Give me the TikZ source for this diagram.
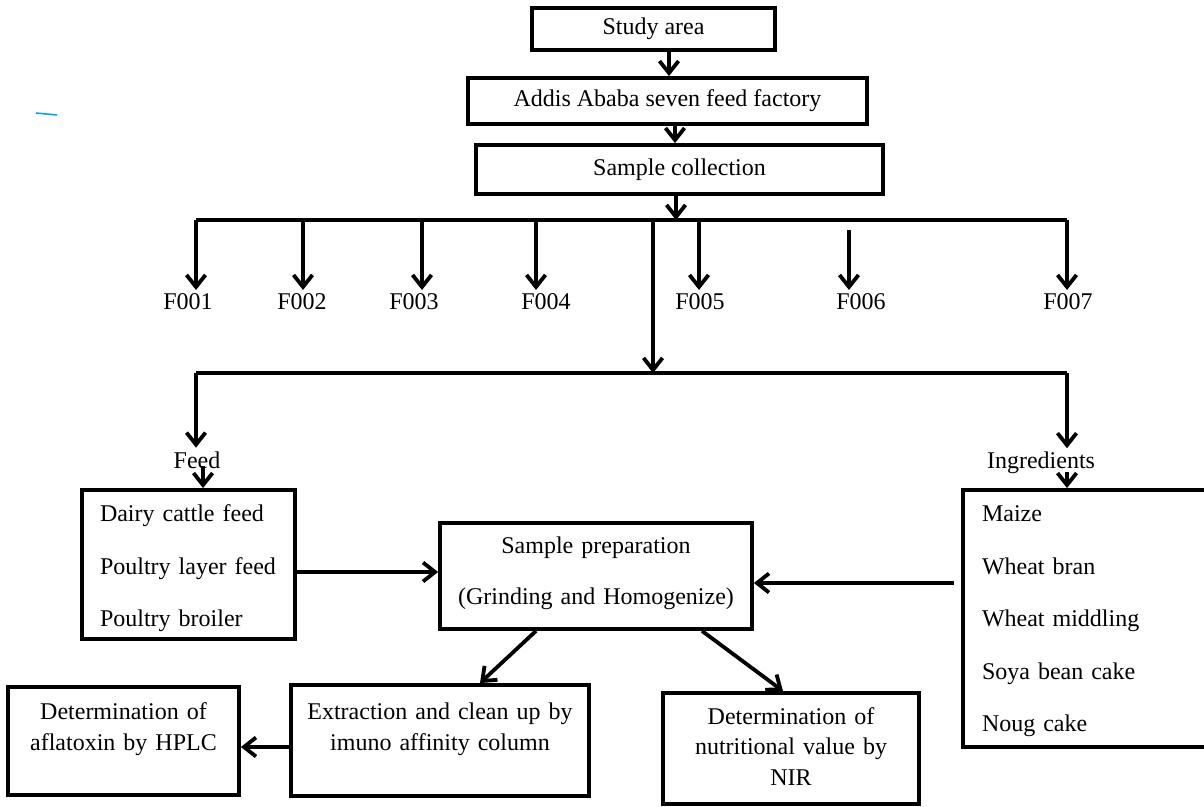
\documentclass[tikz,border=0pt]{standalone}
\usepackage{fontspec}
\setmainfont{Liberation Serif}
\usetikzlibrary{calc}
\usetikzlibrary{positioning}
\usetikzlibrary{arrows.meta}

\begin{document}
\begin{tikzpicture}[->, >={Straight Barb[length=12pt,width=19pt]}, x=1pt, y=-1pt, line width=3.8pt, font=\fontsize{24}{31}\selectfont]
			\tikzstyle{block}=[draw=black,rectangle,fill=none,inner sep=0pt,align=center]
			\tikzstyle{list}=[draw=black,rectangle,fill=none,inner ysep=0pt,inner xsep=18pt,align=left,font=\fontsize{24}{52.5}\selectfont]
			\tikzstyle{lbl}=[inner sep=2pt]

			\useasboundingbox (0,0) rectangle (1204,806);
			\clip (0,0) rectangle (1204,806);

			\draw[-, draw=blue!40!cyan, line width=1.5pt] (36,113) -- (57,115);

			\node[block, minimum width=243pt, minimum height=42pt] (study) at (653.5,29) {Study area};
			\node[block, minimum width=399pt, minimum height=46pt] (addis) at (667.5,101) {Addis Ababa seven feed factory};
			\node[block, minimum width=407pt, minimum height=49pt] (collect) at (679.5,169.5) {Sample collection};

			\draw ([xshift=15.5pt]study.south) -- ([xshift=15.5pt]study.south |- addis.north);
			\draw ([xshift=7.5pt]addis.south) -- ([xshift=7.5pt]addis.south |- collect.north);

			% farms
			\coordinate (b1l) at (196,220);
			\coordinate (b1r) at (1067,220);
			\draw[-] (b1l) -- (b1r);
			\draw ([xshift=-3.5pt]collect.south) -- ([xshift=-3.5pt]collect.south |- b1l);

			\node[lbl] (f1) at (188,302) {F001};
			\node[lbl] (f2) at (302,302) {F002};
			\node[lbl] (f3) at (414,302) {F003};
			\node[lbl] (f4) at (546,302) {F004};
			\node[lbl] (f5) at (700,302) {F005};
			\node[lbl] (f6) at (861,302) {F006};
			\node[lbl] (f7) at (1068,302) {F007};

			\draw (b1l) -- (b1l |- f1.north);
			\draw ([xshift=1pt]f2.north |- b1l) -- ([xshift=1pt]f2.north);
			\draw ([xshift=8pt]f3.north |- b1l) -- ([xshift=8pt]f3.north);
			\draw ([xshift=-10pt]f4.north |- b1l) -- ([xshift=-10pt]f4.north);
			\draw ([xshift=-1pt]f5.north |- b1l) -- ([xshift=-1pt]f5.north);
			\draw ([xshift=-12pt,yshift=-10pt]f6.north |- b1l) -- ([xshift=-12pt]f6.north);
			\draw (b1r) -- (b1r |- f7.north);

			% feed / ingredients
			\coordinate (hub) at (653,220);
			\coordinate (b2l) at (196,373);
			\coordinate (b2r) at (1067,373);
			\draw (hub) -- (hub |- b2l);
			\draw[-] (b2l) -- (b2r);

			\node[lbl] (feedlbl) at (197,460) {Feed};
			\node[lbl] (inglbl) at (1041,463) {Ingredients};
			\draw (b2l) -- (b2l |- feedlbl.north);
			\draw (b2r) -- (b2r |- inglbl.north);

			\node[list, text width=177pt, minimum height=149pt, text depth=102pt] (feedbox) at (188.5,564.5) {Dairy cattle feed\\Poultry layer feed\\Poultry broiler};
			\node[list, text width=214pt, inner xsep=19pt, minimum height=257pt, text depth=209pt] (ingbox) at (1089,618.5) {Maize\\Wheat bran\\Wheat middling\\Soya bean cake\\Noug cake};

			\draw ([xshift=6pt,yshift=-6pt]feedlbl.center) -- ([xshift=6pt]feedlbl.center |- feedbox.north);
			\draw ([yshift=-9pt]b2r |- inglbl.center) -- (b2r |- ingbox.north);

			\node[block, text width=312pt, minimum height=106pt, text depth=62pt, font=\fontsize{24}{51}\selectfont] (prep) at (596,576) {Sample preparation\\(Grinding and Homogenize)};

			\draw ([yshift=-7.5pt]feedbox.east) -- ([yshift=-7.5pt]feedbox.east -| prep.west);
			\draw ([xshift=-7pt,yshift=35.5pt]ingbox.west) -- ([yshift=35.5pt]ingbox.west -| prep.east);

			\node[block, text width=298pt, minimum height=111pt, text depth=59pt] (extract) at (440,740.5) {Extraction and clean up by\\imuno affinity column};
			\node[block, text width=231pt, minimum height=108pt, text depth=60pt] (hplc) at (123.5,741) {Determination of\\aflatoxin by HPLC};
			\node[block, text width=256pt, minimum height=111pt, text depth=65pt, font=\fontsize{24}{30.5}\selectfont] (nir) at (791,748.5) {Determination of\\nutritional value by\\NIR};

			\draw ([xshift=-60pt]prep.south) -- ([xshift=40pt]extract.north);
			\draw ([xshift=106pt]prep.south) -- ([xshift=-8pt]nir.north);
			\draw ([yshift=-6.5pt]extract.west) -- ([yshift=-6.5pt]extract.west -| hplc.east);
			\end{tikzpicture}
\end{document}
